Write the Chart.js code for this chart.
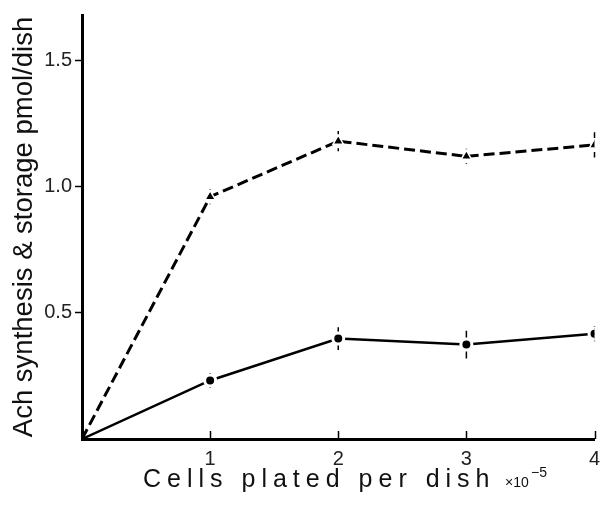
<!DOCTYPE html>
<html>
<head>
<meta charset="utf-8">
<script src="https://cdn.jsdelivr.net/npm/chart.js@4/dist/chart.umd.min.js"></script>
<style>
  html, body { margin: 0; padding: 0; background: #fff; }
  #wrap { width: 603px; height: 508px; }
</style>
</head>
<body>
<div id="wrap"><canvas id="chart" width="603" height="508"></canvas></div>
<script>
// x values (cells plated per dish, x10^5)
const cells = [0, 1, 2, 3, 4];
// dashed series (triangles)
const triangleVals = [0, 0.96, 1.18, 1.12, 1.165];
const triangleErr = [0, 0.03, 0.04, 0.03, 0.05];
// solid series (circles)
const circleVals = [0, 0.232, 0.398, 0.374, 0.417];
const circleErr = [0, 0.03, 0.045, 0.055, 0.03];
// tick labels
const xTicks = [1, 2, 3, 4];
const yTicks = [0.5, 1.0, 1.5];

const FONT = "'Liberation Sans', Arial, sans-serif";

function toPoints(vals) {
  return cells.map((x, i) => ({ x, y: vals[i] }));
}

// error bars + inward x ticks + x axis title
const extrasPlugin = {
  id: 'extras',
  afterDatasetsDraw(chart) {
    const ctx = chart.ctx;
    const xs = chart.scales.x, ys = chart.scales.y;
    const sets = [[triangleVals, triangleErr], [circleVals, circleErr]];
    ctx.save();
    ctx.strokeStyle = '#000';
    ctx.lineWidth = 1.5;
    sets.forEach(([vals, errs]) => {
      vals.forEach((v, i) => {
        if (!errs[i]) return;
        const px = xs.getPixelForValue(cells[i]);
        const top = ys.getPixelForValue(v + errs[i]);
        const bot = ys.getPixelForValue(v - errs[i]);
        const mid = ys.getPixelForValue(v);
        ctx.beginPath();
        ctx.moveTo(px, top); ctx.lineTo(px, Math.min(mid - 7, top + (mid - top) * 0.6));
        ctx.moveTo(px, Math.max(mid + 7, bot - (bot - mid) * 0.6)); ctx.lineTo(px, bot);
        ctx.stroke();
      });
    });
    ctx.restore();
  },
  afterDraw(chart) {
    const ctx = chart.ctx;
    const xs = chart.scales.x;
    const bottom = chart.chartArea.bottom;
    ctx.save();
    ctx.strokeStyle = '#000';
    ctx.lineWidth = 1.5;
    xTicks.forEach(v => {
      const px = Math.round(xs.getPixelForValue(v)) + 0.5;
      ctx.beginPath();
      ctx.moveTo(px, bottom);
      ctx.lineTo(px, bottom - 8);
      ctx.stroke();
    });
    // x title
    ctx.fillStyle = '#111';
    ctx.textBaseline = 'alphabetic';
    ctx.font = '25px ' + FONT;
    ctx.letterSpacing = '6px';
    ctx.textAlign = 'left';
    ctx.fillText('Cells plated per dish', 143, 487);
    ctx.letterSpacing = '0px';
    ctx.font = '14px ' + FONT;
    ctx.fillText('\u00d710', 505, 487);
    ctx.fillText('\u22125', 531, 477);
    ctx.restore();
  }
};

new Chart(document.getElementById('chart'), {
  type: 'line',
  data: {
    datasets: [
      {
        data: toPoints(triangleVals),
        borderColor: '#000',
        borderWidth: 3,
        borderDash: [11, 5],
        pointStyle: 'triangle',
        pointRadius: [0, 6, 6, 6, 6],
        pointBackgroundColor: '#000',
        pointBorderColor: '#fff',
        pointBorderWidth: 1.5,
        tension: 0
      },
      {
        data: toPoints(circleVals),
        borderColor: '#000',
        borderWidth: 2.5,
        pointStyle: 'circle',
        pointRadius: [0, 5.5, 5.5, 5.5, 5.5],
        pointBackgroundColor: '#000',
        pointBorderColor: '#fff',
        pointBorderWidth: 3,
        tension: 0
      }
    ]
  },
  options: {
    responsive: false,
    animation: false,
    layout: { padding: { top: 13, right: 8, left: 0, bottom: 0 } },
    plugins: {
      legend: { display: false },
      tooltip: { enabled: false }
    },
    scales: {
      x: {
        type: 'linear',
        min: 0,
        max: 4,
        afterBuildTicks: s => { s.ticks = xTicks.map(v => ({ value: v })); },
        afterFit: s => { s.height = 69; },
        grid: { display: false },
        border: { display: true, width: 3, color: '#000' },
        ticks: {
          color: '#222',
          font: { family: FONT, size: 20 },
          padding: 0,
          maxRotation: 0
        }
      },
      y: {
        min: 0,
        max: 1.68,
        afterBuildTicks: s => { s.ticks = yTicks.map(v => ({ value: v })); },
        afterFit: s => { s.width = 82; },
        grid: { drawOnChartArea: false, tickLength: 7, tickWidth: 1.5, color: '#000' },
        border: { display: true, width: 3, color: '#000' },
        ticks: {
          color: '#222',
          font: { family: FONT, size: 20 },
          padding: 3,
          callback: v => Number(v).toFixed(1)
        },
        title: {
          display: true,
          text: 'Ach synthesis & storage pmol/dish',
          color: '#111',
          font: { family: FONT, size: 27.5 },
          padding: { top: 8, bottom: 0 }
        }
      }
    }
  },
  plugins: [extrasPlugin]
});
</script>
</body>
</html>
